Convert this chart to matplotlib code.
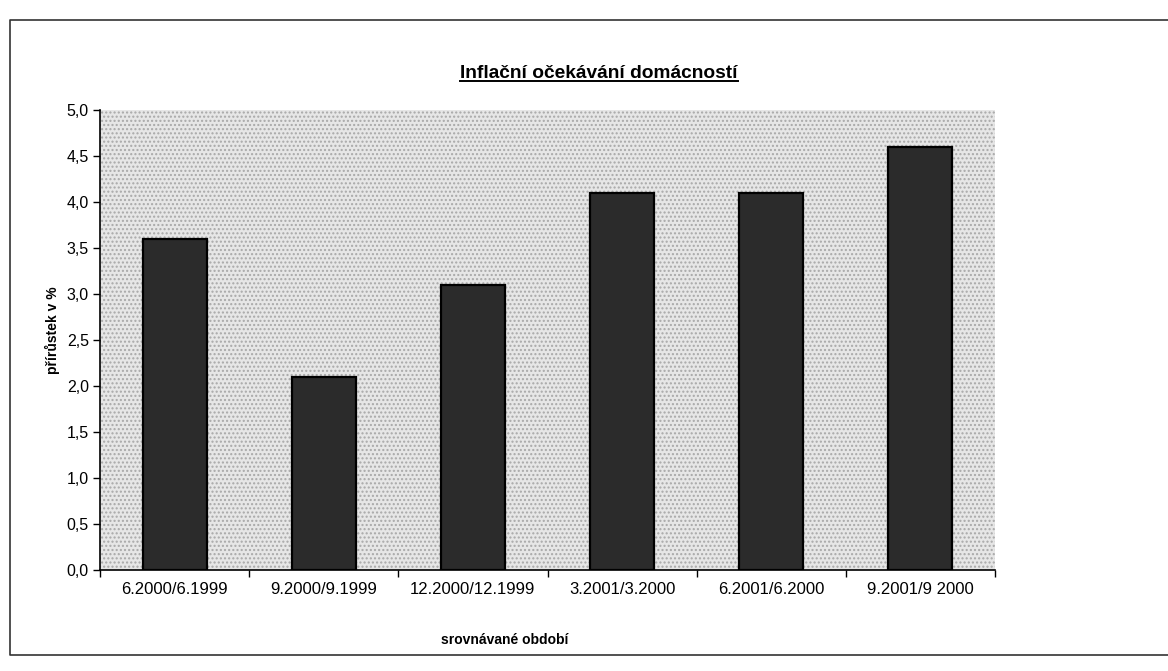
import matplotlib
matplotlib.use("Agg")
import matplotlib.pyplot as plt
from matplotlib.lines import Line2D
from matplotlib.ticker import FuncFormatter, FixedLocator
import numpy as np

# Compared periods and expected household inflation (%)
periods = ["6.2000/6.1999", "9.2000/9.1999", "12.2000/12.1999",
           "3.2001/3.2000", "6.2001/6.2000", "9.2001/9 2000"]
expectations = [3.6, 2.1, 3.1, 4.1, 4.1, 4.6]

title = "Inflační očekávání domácností"
xlabel = "srovnávané období"
ylabel = "přírůstek v %"

W, H = 1168, 671
plt.rcParams["font.family"] = ["Liberation Sans", "DejaVu Sans"]
plt.rcParams["hatch.linewidth"] = 1.0

fig = plt.figure(figsize=(W / 100, H / 100), dpi=100)
fig.patch.set_facecolor("white")

def px(x, y):
    return x / W, 1 - y / H

# plot area in pixels
L, R, T, B = 100, 995, 110, 570
ax = fig.add_axes([L / W, 1 - B / H, (R - L) / W, (B - T) / H])
ax.set_facecolor("#e6e6e6")
ax.patch.set_hatch("....")
ax.patch.set_edgecolor("#a8a8a8")
ax.patch.set_linewidth(0)

x = np.arange(len(periods))
ax.bar(x, expectations, width=0.43, color="#2b2b2b", edgecolor="black",
       linewidth=1.6, zorder=3)

ax.set_xlim(-0.5, len(periods) - 0.5)
ax.set_ylim(0, 5.0)
ax.set_yticks(np.arange(0, 5.01, 0.5))
ax.yaxis.set_major_formatter(FuncFormatter(lambda v, p: f"{v:.1f}".replace(".", ",")))

# category separators as major ticks, labels on minor ticks
ax.xaxis.set_major_locator(FixedLocator(np.arange(-0.5, len(periods), 1.0)))
ax.xaxis.set_major_formatter(FuncFormatter(lambda v, p: ""))
ax.set_xticks(x, minor=True)
ax.set_xticklabels(periods, minor=True)
ax.tick_params(axis="x", which="major", direction="out", length=5, width=1, color="black")
ax.tick_params(axis="x", which="minor", length=0, pad=9, labelsize=12)
ax.tick_params(axis="y", direction="out", length=5, width=1, pad=3, labelsize=11.5)

for s in ("top", "right"):
    ax.spines[s].set_visible(False)
for s in ("left", "bottom"):
    ax.spines[s].set_linewidth(1.2)
    ax.spines[s].set_color("black")

# title with underline
tx, ty = px(599, 73)
t = fig.text(tx, ty, title, ha="center", va="center", fontsize=13.8, fontweight="bold")
fig.canvas.draw()
bb = t.get_window_extent(renderer=fig.canvas.get_renderer())
bb = bb.transformed(fig.transFigure.inverted())
fig.add_artist(Line2D([bb.x0, bb.x1], [bb.y0 + 0.001, bb.y0 + 0.001],
                      transform=fig.transFigure, color="black", linewidth=1.4))

lx, ly = px(505, 640)
fig.text(lx, ly, xlabel, ha="center", va="center", fontsize=10, fontweight="bold")
yx, yy = px(52, 330)
fig.text(yx, yy, ylabel, ha="center", va="center", rotation=90, fontsize=10,
         fontweight="bold")

# chart area border
x0, y0 = px(10, 20)
x1, y1 = px(1200, 655)
fig.add_artist(Line2D([x1, x0, x0, x1], [y0, y0, y1, y1], transform=fig.transFigure,
                      color="#333333", linewidth=1.2))

fig.savefig("out.png", dpi=100)
